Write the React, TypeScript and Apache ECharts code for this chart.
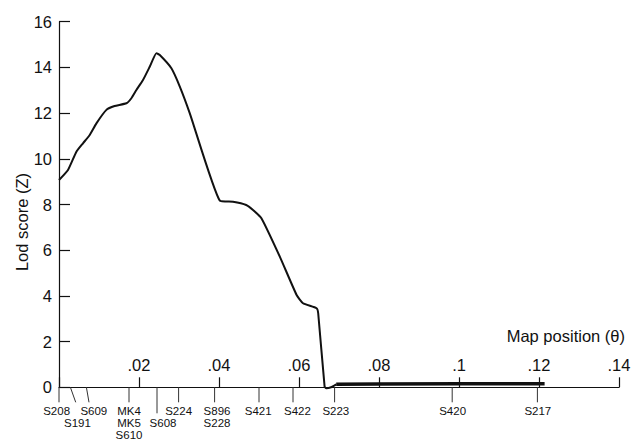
import React, { useEffect, useRef } from "react";
import * as echarts from "echarts";

// Lod score curve (map position θ, Lod score Z)
const curveTheta = [0, 0.00225, 0.00435, 0.006, 0.00768, 0.00935, 0.01185, 0.0139, 0.01685, 0.0181, 0.01935, 0.021, 0.02268, 0.02435, 0.0252, 0.0281, 0.0302, 0.0327, 0.0402, 0.0435, 0.0468, 0.0485, 0.0506, 0.0552, 0.0594, 0.061, 0.0644, 0.0648, 0.0664, 0.0668, 0.068, 0.0693];
const curveLod = [9.07, 9.51, 10.31, 10.68, 11.04, 11.55, 12.14, 12.31, 12.43, 12.65, 13.01, 13.45, 14.03, 14.62, 14.54, 13.96, 13.16, 11.99, 8.17, 8.12, 7.98, 7.76, 7.4, 5.72, 4.04, 3.68, 3.46, 3.24, 0.03, -0.04, 0.0, 0.13];
// flat tail (drawn heavier)
const tailTheta = [0.0693, 0.08, 0.1, 0.1214];
const tailLod = [0.13, 0.14, 0.15, 0.15];

// markers along the map (names stacked at the same position share one entry)
const markerNames = [["S208"], ["S191"], ["S609"], ["MK4", "MK5", "S610"], ["S608"], ["S224"], ["S896", "S228"], ["S421"], ["S422"], ["S223"], ["S420"], ["S217"]];
const markerPos = [0, 0.00285, 0.00685, 0.0175, 0.0245, 0.0299, 0.0389, 0.05, 0.0585, 0.0689, 0.0983, 0.1196];
const markerTickEnd = [0, 0.00418, 0.0075, 0.0175, 0.0245, 0.0299, 0.0389, 0.05, 0.0585, 0.0689, 0.0983, 0.1196];
const markerLabelAt = [-0.0006, 0.0046, 0.0087, 0.0175, 0.026, 0.0299, 0.0395, 0.0498, 0.0596, 0.0692, 0.0984, 0.1197];
const markerRow = [0, 1, 0, 0, 1, 0, 0, 0, 0, 0, 0, 0];

const xTicks = [0, 0.02, 0.04, 0.06, 0.08, 0.1, 0.12, 0.14];
const yTicks = [0, 2, 4, 6, 8, 10, 12, 14, 16];

const FONT = "'Liberation Sans', Arial, Helvetica, sans-serif";
const INK = "#111";

export default function App() {
  const ref = useRef<HTMLDivElement>(null);
  useEffect(() => {
    if (!ref.current) return;
    const chart = echarts.init(ref.current, undefined, { renderer: "svg" });
    const fmtX = (v: number) => (v === 0 ? "" : String(+v.toFixed(2)).replace(/^0/, ""));
    chart.setOption({
      animation: false,
      backgroundColor: "#fff",
      textStyle: { fontFamily: FONT },
      grid: { left: 59, right: 16, top: 21.7, bottom: 53.7 },
      xAxis: {
        type: "value",
        min: xTicks[0],
        max: xTicks[xTicks.length - 1],
        interval: 0.02,
        splitLine: { show: false },
        axisLine: { lineStyle: { color: INK, width: 1.2 } },
        axisTick: { inside: true, length: 10, lineStyle: { color: INK, width: 1.2 } },
        axisLabel: { inside: true, margin: 14, fontSize: 16.5, color: INK, fontFamily: FONT, formatter: fmtX },
      },
      yAxis: {
        type: "value",
        min: yTicks[0],
        max: yTicks[yTicks.length - 1],
        interval: 2,
        splitLine: { show: false },
        axisLine: { show: true, lineStyle: { color: INK, width: 1.2 } },
        axisTick: { show: true, inside: true, length: 11, lineStyle: { color: INK, width: 1.2 } },
        axisLabel: { margin: 7, fontSize: 16.5, color: INK, fontFamily: FONT },
      },
      graphic: [
        {
          type: "text",
          x: 22,
          y: 222,
          rotation: Math.PI / 2,
          style: { text: "Lod score (Z)", font: `16.5px ${FONT}`, fill: INK, align: "center", verticalAlign: "middle" },
        },
        {
          type: "text",
          x: 625,
          y: 336,
          style: { text: "Map position (θ)", font: `16.5px ${FONT}`, fill: INK, align: "right", verticalAlign: "middle" },
        },
      ],
      series: [
        {
          type: "line",
          data: curveTheta.map((t, i) => [t, curveLod[i]]),
          showSymbol: false,
          clip: false,
          smooth: 0.15,
          lineStyle: { color: INK, width: 2 },
        },
        {
          type: "line",
          data: tailTheta.map((t, i) => [t, tailLod[i]]),
          showSymbol: false,
          clip: false,
          lineStyle: { color: INK, width: 3.5 },
        },
        {
          type: "custom",
          clip: false,
          data: markerPos.map((p, i) => [p, markerTickEnd[i], markerLabelAt[i], markerRow[i]]),
          renderItem: (params: any, api: any) => {
            const i = params.dataIndex;
            const a = api.coord([api.value(0), 0]);
            const b = api.coord([api.value(1), 0]);
            const l = api.coord([api.value(2), 0]);
            const row = api.value(3);
            const tickLen = row === 1 && i === 4 ? 26 : 15;
            const lines = markerNames[i];
            const children: any[] = [
              {
                type: "line",
                shape: { x1: a[0], y1: a[1], x2: b[0], y2: a[1] + tickLen },
                style: { stroke: "#333", lineWidth: 1 },
              },
            ];
            lines.forEach((name, k) => {
              children.push({
                type: "text",
                x: l[0],
                y: a[1] + 23.5 + (row + k) * 12,
                style: {
                  text: name,
                  font: `11.5px ${FONT}`,
                  fill: INK,
                  align: "center",
                  verticalAlign: "middle",
                },
              });
            });
            return { type: "group", children };
          },
        },
      ],
    });
    return () => chart.dispose();
  }, []);
  return <div ref={ref} style={{ width: 635, height: 441, position: "absolute", left: 0, top: 0 }} />;
}
